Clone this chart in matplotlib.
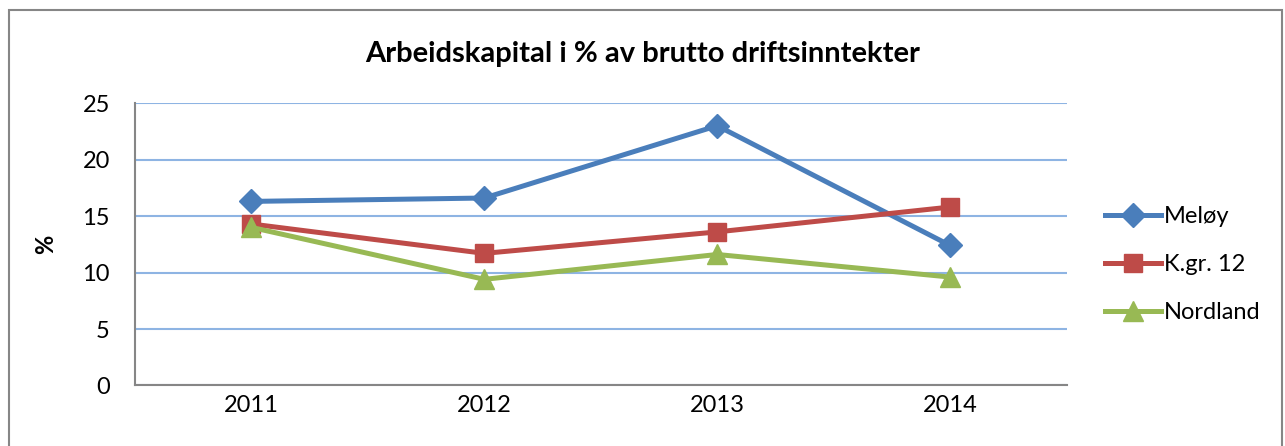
import matplotlib.pyplot as plt
from matplotlib.patches import Rectangle

plt.rcParams['font.family'] = ['Lato', 'DejaVu Sans']

# data
years = ["2011", "2012", "2013", "2014"]
meloy = [16.3, 16.6, 23.0, 12.4]
kgr12 = [14.3, 11.7, 13.6, 15.8]
nordland = [14.0, 9.4, 11.6, 9.6]

fig = plt.figure(figsize=(12.85, 4.46), dpi=100)
ax = fig.add_axes([0.105, 0.1357, 0.725, 0.633])

x = range(len(years))
ax.plot(x, meloy, color="#4A7EBB", lw=3.6, marker="D", ms=12, label="Meløy")
ax.plot(x, kgr12, color="#BE4B48", lw=3.6, marker="s", ms=13, label="K.gr. 12")
ax.plot(x, nordland, color="#98B954", lw=3.6, marker="^", ms=15, label="Nordland")

ax.set_xlim(-0.5, 3.5)
ax.set_ylim(0, 25)
ax.set_yticks([0, 5, 10, 15, 20, 25])
ax.set_xticks(list(x))
ax.set_xticklabels(years)
ax.tick_params(length=0, labelsize=17)
ax.tick_params(axis="y", pad=18)
ax.tick_params(axis="x", pad=7)
ax.grid(axis="y", color="#8EB4E3", lw=1.5)
ax.set_axisbelow(True)
for s in ["top", "right"]:
    ax.spines[s].set_visible(False)
for s in ["left", "bottom"]:
    ax.spines[s].set_color("#868686")
    ax.spines[s].set_linewidth(1.5)

ax.set_ylabel("%", fontsize=17, fontweight="bold", labelpad=18)
fig.text(0.5, 0.88, "Arbeidskapital i % av brutto driftsinntekter",
         ha="center", va="center", fontsize=21, fontweight="bold")

ax.legend(loc="center left", bbox_to_anchor=(1.018, 0.428), frameon=False,
          fontsize=17, handlelength=2.4, labelspacing=1.15, handletextpad=0.1)

fig.patches.append(Rectangle((0.007, -0.01), 0.991, 0.988, transform=fig.transFigure,
                             fill=False, edgecolor="#868686", lw=1.5))

fig.savefig("out.png", dpi=100)
